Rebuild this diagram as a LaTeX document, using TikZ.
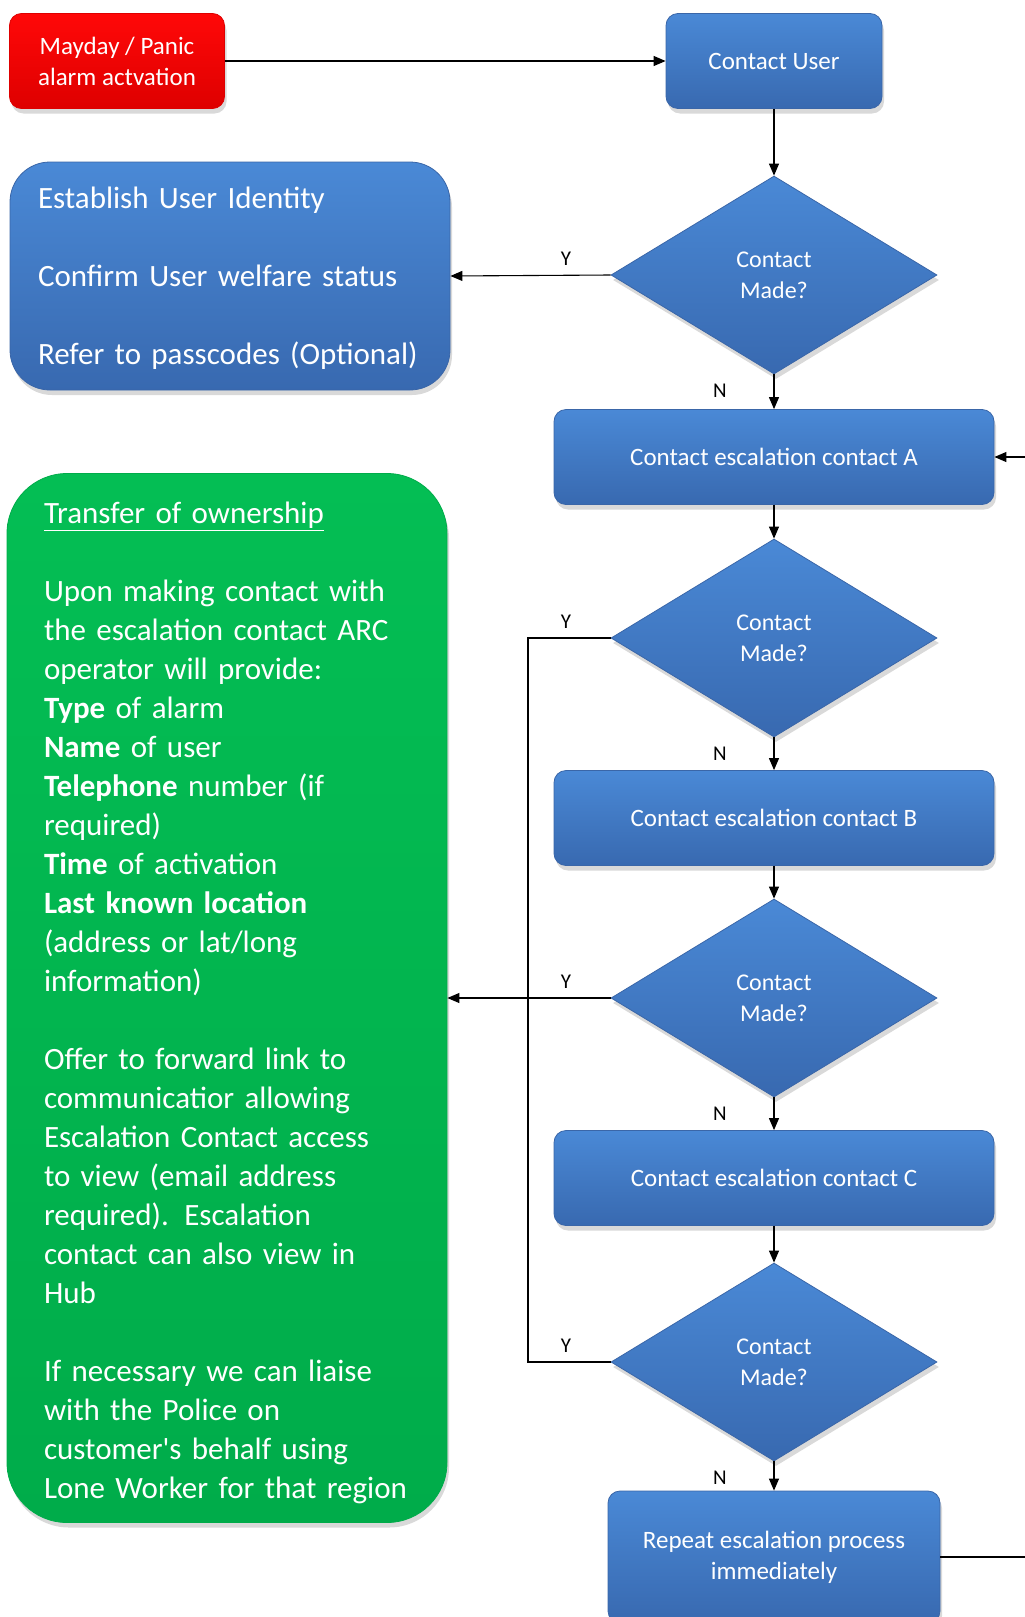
\documentclass[tikz,border=0pt]{standalone}
\usepackage{fontspec}
\setmainfont{Carlito}
\usetikzlibrary{
  shapes.geometric,
  arrows.meta,
  shadows
}
\definecolor{boxtop}{RGB}{74,137,214}
\definecolor{boxbot}{RGB}{56,105,176}
\definecolor{boxline}{RGB}{58,102,168}
\definecolor{alarmred}{RGB}{255,8,8}
\definecolor{alarmdark}{RGB}{222,0,0}
\definecolor{owngreen}{RGB}{4,190,84}
\definecolor{owndark}{RGB}{0,172,74}

\begin{document}
\begin{tikzpicture}[
    x=1pt, y=-1pt,
    font=\fontsize{25}{31}\selectfont,
    base/.style={
      draw=boxline, line width=0.8pt,
      top color=boxtop, bottom color=boxbot,
      text=white, align=center,
      drop shadow={shadow xshift=2pt, shadow yshift=-5pt, opacity=0.3}
    },
    blk/.style={base, rectangle, rounded corners=12pt, minimum height=95pt},
    dec/.style={base, diamond, minimum width=326pt, minimum height=198pt, inner sep=0pt,
      font=\fontsize{24}{31}\selectfont},
    note/.style={base, rectangle, align=left, font=\fontsize{31}{39}\selectfont},
    yn/.style={font=\fontsize{21}{25}\selectfont, inner sep=0pt},
    arr/.style={-{Triangle[length=12pt,width=10pt]}, line width=1.1pt},
    wire/.style={line width=1.1pt},
  ]
    \useasboundingbox (0,0) rectangle (1025,1617);

    \node[blk, minimum width=215pt, top color=alarmred, bottom color=alarmdark, draw=alarmdark]
      (alarm) at (117,61) {Mayday / Panic\\alarm actvation};
    \node[blk, minimum width=216pt] (user) at (774,61) {Contact User};

    \node[note, rounded corners=40pt, minimum width=440pt, minimum height=228pt, text width=384pt]
      (est) at (230,276) {\rule{0pt}{26pt}Establish User Identity\\[39pt]Confirm User welfare status\\[39pt]Refer to passcodes (Optional)};

    \node[dec] (d1) at (774,275)  {Contact\\Made?};
    \node[blk, minimum width=440pt] (ca) at (774,457)  {Contact escalation contact A};
    \node[dec] (d2) at (774,638)  {Contact\\Made?};
    \node[blk, minimum width=440pt] (cb) at (774,818)  {Contact escalation contact B};
    \node[dec] (d3) at (774,998)  {Contact\\Made?};
    \node[blk, minimum width=440pt] (cc) at (774,1178) {Contact escalation contact C};
    \node[dec] (d4) at (774,1362) {Contact\\Made?};
    \node[blk, minimum width=332pt, minimum height=132pt] (rep) at (774,1557) {Repeat escalation process\\immediately};

    \node[note, rounded corners=60pt, minimum width=440pt, minimum height=1049pt, text width=366pt,
      top color=owngreen, bottom color=owndark, draw=owndark]
      (own) at (227,998) {\rule{0pt}{32pt}\underline{Transfer of ownership}\\[39pt]
        Upon making contact with\\
        the escalation contact ARC\\
        operator will provide:\\
        \textbf{Type} of alarm\\
        \textbf{Name} of user\\
        \textbf{Telephone} number (if\\
        required)\\
        \textbf{Time} of activation\\
        \textbf{Last known location}\\
        (address or lat/long\\
        information)\\[39pt]
        Offer to forward link to\\
        communicatior allowing\\
        Escalation Contact access\\
        to view (email address\\
        required). Escalation\\
        contact can also view in\\
        Hub\\[39pt]
        If necessary we can liaise\\
        with the Police on\\
        customer\textquotesingle s behalf using\\
        Lone Worker for that region};

    % Y / N labels
    \foreach \i in {1,...,4}{
      \node[yn] (y\i) at ([xshift=-208pt, yshift=16pt]d\i.center) {Y};
      \node[yn] (n\i) at ([xshift=-54pt, yshift=-16pt]d\i.south) {N};
    }

    \draw[arr] (alarm.east) -- (user.west);
    \foreach \a/\b in {user/d1,d1/ca,ca/d2,d2/cb,cb/d3,d3/cc,cc/d4,d4/rep}{
      \draw[arr] (\a.south) -- (\b.north);
    }
    \draw[arr] (d1.west) -- (est.east);

    \coordinate (ybus) at (528,638);
    \draw[wire] (d2.west) -- (ybus) |- (d4.west);
    \draw[arr] (d3.west) -- (own.east);

    \coordinate (loopb) at (1045,1557);
    \coordinate (loopt) at (1045,457);
    \draw[arr] (rep.east) -- (loopb) -- (loopt) -- (ca.east);
\end{tikzpicture}
\end{document}
